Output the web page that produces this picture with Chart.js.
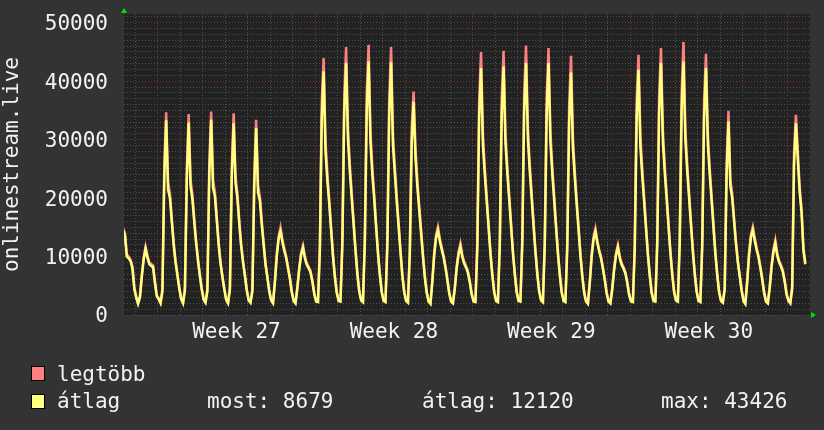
<!DOCTYPE html>
<html>
<head>
<meta charset="utf-8">
<script src="https://cdn.jsdelivr.net/npm/chart.js@4.4.1/dist/chart.umd.min.js"></script>
<style>
  html, body { margin: 0; padding: 0; background: #333333; }
  #wrap { position: relative; width: 824px; height: 430px; }
  #graf { position: absolute; left: 0; top: 0; }
  .leg { position: absolute; font: 21px "DejaVu Sans Mono", monospace; color: #f2f2f2; line-height: 21px; white-space: pre; }
  .box { position: absolute; width: 12px; height: 13px; border: 1px solid #000; }
</style>
</head>
<body>
<div id="wrap">
  <canvas id="graf" width="824" height="430"></canvas>
  <div class="box" style="left:31px; top:366px; background:#ff8080"></div>
  <div class="box" style="left:31px; top:394px; background:#ffff80"></div>
  <div class="leg" style="left:57px; top:364px">legtöbb</div>
  <div class="leg" style="left:57px; top:391px">átlag</div>
  <div class="leg" style="left:207px; top:391px">most: 8679</div>
  <div class="leg" style="left:422px; top:391px">átlag: 12120</div>
  <div class="leg" style="left:661px; top:391px">max: 43426</div>
</div>
<script>
// samples every 2 hours, first one at 11:00 of day 0 (x axis is in days)
const startHour = 11;
const stepHours = 2;

const weekLabels = ["Week 27", "Week 28", "Week 29", "Week 30"];

// "átlag" (average), one line per day
const atlag = [
  14600, 13600, 10000, 9700, 9200, 8000, 4500,
  3000, 1900, 3000, 6500, 9500, 11300, 9800, 8700, 8400, 8200, 5500, 3200,
  2700, 2000, 4000, 23500, 33300, 21500, 20000, 16000, 12000, 9000, 6800, 4500,
  2700, 2000, 4200, 23000, 32900, 22000, 19800, 15800, 12200, 9200, 6600, 4300,
  2600, 2100, 4100, 24000, 33400, 21800, 20300, 16200, 12000, 8800, 6500, 4400,
  2600, 2000, 4300, 23500, 32800, 22500, 20000, 15600, 11800, 9000, 6700, 4200,
  2500, 2100, 4000, 22000, 32000, 21000, 19500, 15500, 12000, 8600, 6400, 4000,
  2500, 2000, 5500, 10000, 13000, 14300, 12500, 11000, 9800, 8000, 6200, 3900,
  2400, 2000, 4600, 7800, 10300, 11500, 9700, 8600, 8000, 7300, 5700, 3600,
  2300, 2200, 11000, 33500, 41700, 28000, 23000, 19000, 14500, 10000, 6500, 3800,
  2400, 2300, 12000, 34500, 43100, 30000, 24500, 20000, 15500, 11000, 7000, 4000,
  2500, 2200, 12500, 35000, 43426, 29500, 24000, 19800, 15000, 10500, 6800, 3900,
  2400, 2200, 11800, 34000, 43270, 29000, 24200, 19500, 15200, 10800, 6700, 3900,
  2400, 2100, 10500, 29500, 36500, 27000, 22000, 18000, 14000, 10000, 6400, 3800,
  2300, 1900, 5600, 10200, 13200, 14500, 12600, 11200, 9900, 8100, 6000, 3700,
  2300, 2000, 4500, 8000, 10400, 11700, 9900, 8800, 8100, 7200, 5600, 3500,
  2300, 2200, 11500, 33800, 42240, 29000, 24000, 19500, 15000, 10500, 6800, 3900,
  2400, 2200, 11800, 34000, 42520, 29500, 24300, 19800, 15200, 10600, 6900, 3900,
  2400, 2300, 12200, 34800, 43100, 30000, 24500, 20000, 15300, 10800, 7000, 4000,
  2500, 2200, 12000, 34500, 43100, 29600, 24200, 19600, 15000, 10500, 6800, 3900,
  2400, 2200, 11500, 33000, 41490, 28500, 23500, 19000, 14600, 10200, 6600, 3800,
  2300, 1900, 5400, 9900, 12900, 14260, 12400, 10900, 9700, 7900, 6000, 3700,
  2300, 2000, 4400, 7700, 10200, 11590, 9700, 8600, 7900, 7100, 5500, 3400,
  2300, 2200, 11200, 33500, 41950, 28800, 23800, 19400, 14800, 10300, 6700, 3800,
  2400, 2300, 12000, 34600, 43100, 29800, 24400, 19900, 15200, 10700, 6900, 3900,
  2500, 2300, 12300, 35000, 43380, 30000, 24600, 20000, 15400, 10800, 7000, 4000,
  2400, 2200, 11600, 33800, 42240, 29200, 24000, 19600, 15000, 10500, 6800, 3900,
  2400, 2100, 4300, 24000, 33100, 22000, 20000, 16000, 12200, 9000, 6600, 4200,
  2400, 1900, 5600, 10300, 13300, 14550, 12700, 11200, 9900, 8100, 6100, 3800,
  2300, 2000, 4600, 8200, 10800, 12280, 10200, 9000, 8300, 7400, 5700, 3500,
  2400, 2000, 4500, 26000, 32800, 26500, 21000, 17500, 11000, 8679
];

// "legtöbb" (maximum)
const legtobb = [
  14900, 14000, 10400, 10000, 9500, 8300, 4800,
  3200, 2100, 3300, 6900, 9900, 11700, 10200, 9000, 8700, 8500, 5800, 3400,
  2900, 2200, 4500, 25500, 34700, 22700, 20800, 16600, 12400, 9300, 7000, 4700,
  2900, 2200, 4700, 25000, 34400, 23200, 20600, 16400, 12600, 9500, 6800, 4500,
  2800, 2300, 4600, 26000, 34800, 23000, 21100, 16800, 12400, 9100, 6700, 4600,
  2800, 2200, 4800, 25500, 34500, 23700, 20800, 16200, 12200, 9300, 6900, 4400,
  2700, 2300, 4500, 24000, 33400, 22200, 20300, 16100, 12400, 8900, 6600, 4200,
  2700, 2200, 5900, 10500, 13500, 15000, 13000, 11400, 10100, 8300, 6400, 4100,
  2600, 2200, 4900, 8200, 10700, 11900, 10100, 8900, 8300, 7600, 5900, 3800,
  2500, 2400, 12000, 36500, 43950, 29800, 24200, 19800, 15100, 10400, 6800, 4000,
  2600, 2500, 13000, 37500, 45840, 31800, 25700, 20800, 16100, 11400, 7300, 4200,
  2700, 2400, 13500, 38000, 46230, 31300, 25200, 20600, 15600, 10900, 7100, 4100,
  2600, 2400, 12800, 37000, 45840, 30800, 25400, 20300, 15800, 11200, 7000, 4100,
  2600, 2300, 11500, 32000, 38240, 28700, 23100, 18700, 14600, 10400, 6700, 4000,
  2500, 2100, 6000, 10700, 13700, 15100, 13100, 11600, 10200, 8400, 6200, 3900,
  2500, 2200, 4800, 8400, 10800, 12280, 10300, 9100, 8400, 7500, 5800, 3700,
  2500, 2400, 12500, 36800, 44980, 30800, 25200, 20300, 15600, 10900, 7100, 4100,
  2600, 2400, 12800, 37000, 45200, 31300, 25500, 20600, 15800, 11000, 7200, 4100,
  2600, 2500, 13200, 37800, 46100, 31800, 25700, 20800, 15900, 11200, 7300, 4200,
  2700, 2400, 13000, 37500, 45660, 31400, 25400, 20400, 15600, 10900, 7100, 4100,
  2600, 2400, 12500, 36000, 44350, 30300, 24700, 19800, 15200, 10600, 6900, 4000,
  2500, 2100, 5800, 10400, 13400, 14840, 12800, 11200, 10000, 8200, 6200, 3900,
  2500, 2200, 4700, 8100, 10600, 11990, 10100, 8900, 8200, 7400, 5700, 3600,
  2500, 2400, 12200, 36500, 44520, 30600, 25000, 20200, 15400, 10700, 7000, 4000,
  2600, 2500, 13000, 37600, 45660, 31600, 25600, 20700, 15800, 11100, 7200, 4100,
  2700, 2500, 13300, 38000, 46690, 31800, 25800, 20800, 16000, 11200, 7300, 4200,
  2600, 2400, 12600, 36800, 44690, 31000, 25200, 20400, 15600, 10900, 7100, 4100,
  2600, 2300, 4800, 26000, 34930, 23200, 20800, 16600, 12600, 9300, 6800, 4400,
  2600, 2100, 6000, 10800, 13800, 15120, 13200, 11600, 10200, 8400, 6300, 4000,
  2500, 2200, 4900, 8600, 11200, 12840, 10600, 9300, 8600, 7700, 5900, 3700,
  2600, 2200, 5000, 28000, 34250, 28000, 21800, 18100, 11400, 9000
];

const toPoints = (arr) => arr.map((v, i) => ({ x: (startHour + i * stepHours) / 24, y: v }));

const fekete = "#222222";
const racsSzurke = "#505050";
const racsPiros = "#7a3434";

const hatter = {
  id: "hatter",
  beforeDraw(chart) {
    const { ctx, chartArea: a } = chart;
    ctx.save();
    ctx.fillStyle = fekete;
    ctx.fillRect(a.left, a.top, a.right - a.left, a.bottom - a.top);
    ctx.restore();
  },
  afterDraw(chart) {
    const { ctx, chartArea: a } = chart;
    ctx.save();
    ctx.fillStyle = "#00dd00";
    ctx.beginPath();
    ctx.moveTo(a.left - 3, a.top - 1);
    ctx.lineTo(a.left + 3, a.top - 1);
    ctx.lineTo(a.left, a.top - 6);
    ctx.fill();
    ctx.beginPath();
    ctx.moveTo(a.right + 1, a.bottom - 3);
    ctx.lineTo(a.right + 1, a.bottom + 3);
    ctx.lineTo(a.right + 6, a.bottom);
    ctx.fill();
    ctx.restore();
  }
};

const monoFont = { family: "'DejaVu Sans Mono', monospace", size: 21 };

new Chart(document.getElementById("graf"), {
  type: "line",
  data: {
    datasets: [
      {
        label: "legtöbb",
        data: toPoints(legtobb),
        borderColor: "#ff8080",
        borderWidth: 2.5,
        pointRadius: 0,
        tension: 0,
        order: 2
      },
      {
        label: "átlag",
        data: toPoints(atlag),
        borderColor: "#ffff80",
        borderWidth: 2.5,
        pointRadius: 0,
        tension: 0,
        order: 1
      }
    ]
  },
  plugins: [hatter],
  options: {
    responsive: false,
    animation: false,
    layout: { padding: { top: 14, right: 14, bottom: 75, left: 0 } },
    plugins: {
      legend: { display: false },
      tooltip: { enabled: false }
    },
    scales: {
      x: {
        type: "linear",
        min: 0.5,
        max: 31,
        afterFit: (s) => { s.height = 40; s.paddingLeft = 0; s.paddingRight = 0; },
        afterBuildTicks: (s) => {
          const t = [];
          for (let d = 1; d <= 30; d++) t.push({ value: d });
          weekLabels.forEach((_, i) => t.push({ value: 5.5 + 7 * i }));
          t.sort((a, b) => a.value - b.value);
          s.ticks = t;
        },
        grid: {
          drawTicks: false,
          color: (c) => {
            const v = c.tick ? c.tick.value : 0;
            if (v % 1 !== 0) return "rgba(0,0,0,0)";
            return (v - 2) % 7 === 0 ? racsPiros : racsSzurke;
          }
        },
        border: { display: false, dash: [1, 2] },
        ticks: {
          autoSkip: false,
          maxRotation: 0,
          padding: 5,
          color: "#f2f2f2",
          font: monoFont,
          callback: (v) => {
            if (v % 1 === 0) return "";
            return weekLabels[Math.round((v - 5.5) / 7)];
          }
        }
      },
      y: {
        min: 0,
        max: 51500,
        afterFit: (s) => { s.width = 124; s.paddingTop = 0; s.paddingBottom = 0; },
        afterBuildTicks: (s) => {
          const t = [];
          for (let v = 0; v <= 51000; v += 1000) t.push({ value: v });
          s.ticks = t;
        },
        grid: {
          drawTicks: false,
          color: (c) => {
            const v = c.tick ? c.tick.value : 0;
            return v !== 0 && v % 10000 === 0 ? racsPiros : racsSzurke;
          }
        },
        border: { display: false, dash: [1, 2] },
        ticks: {
          autoSkip: false,
          padding: 16,
          labelOffset: 2,
          color: "#f2f2f2",
          font: monoFont,
          callback: (v) => (v % 10000 === 0 ? String(v) : "")
        },
        title: {
          display: true,
          text: "onlinestream.live",
          color: "#f2f2f2",
          font: monoFont,
          padding: 0
        }
      }
    }
  }
});
</script>
</body>
</html>
